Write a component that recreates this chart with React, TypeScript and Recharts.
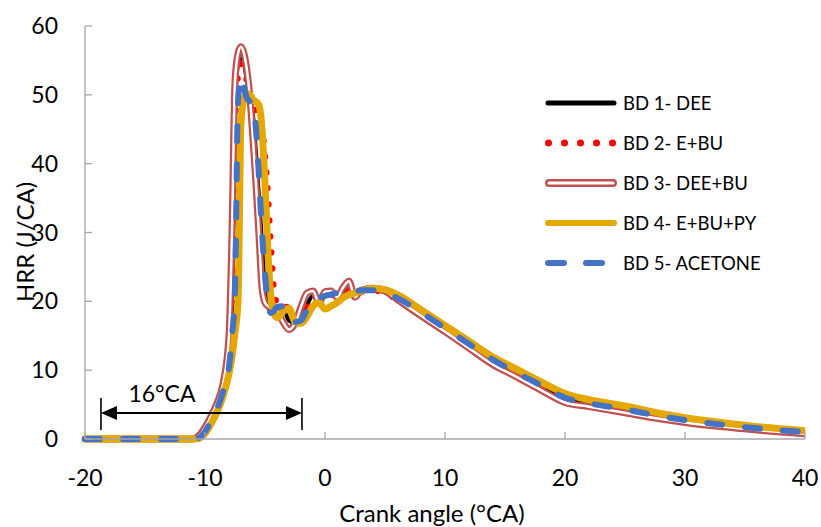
import { LineChart, Line, XAxis, YAxis, Legend, ReferenceLine } from "recharts";

// Heat release rate vs crank angle for five fuel blends.
const crankAngle = [
  -20, -11, -10.5, -10, -9.5, -9, -8.5, -8,
  -7.75, -7.5, -7.25, -7, -6.75, -6.5, -6.25, -6, -5.75, -5.5, -5.25, -5, -4.75, -4.5, -4.25, -4,
  -3.5, -3, -2.5, -2, -1.5, -1, -0.5, 0, 0.5, 1, 1.5, 2, 2.5, 3,
  4, 5, 6, 8, 10, 12, 14, 16, 18, 20, 22, 25, 28, 30, 33, 36, 40,
];

const bd1Dee = [
  0, 0, 0.3, 1.3, 2.8, 4.6, 7.2, 12,
  19, 47.8, 54.5, 55.8, 54.5, 52, 49.5, 47, 41.5, 35, 28.5, 22, 19.3, 18.4, 18.4, 18.5,
  18.8, 17.2, 16.8, 17.8, 19.5, 20.8, 20.0, 20.8, 21.3, 20.9, 21.3, 21.8, 21.0, 21.5,
  21.7, 21.3, 20.4, 18.3, 16.0, 13.7, 11.3, 9.5, 7.7, 5.9, 5.1, 4.2, 3.2, 2.65, 2.0, 1.5, 0.95,
];

const bd2EBu = [
  0, 0, 0.3, 1.3, 2.8, 4.6, 7.0, 11.5,
  18, 45, 53, 54.5, 53.5, 52, 50, 48.5, 47.5, 46.5, 45, 41, 35, 27.5, 21.5, 19.8,
  20.0, 18.5, 17.5, 18.0, 19.2, 20.5, 20.2, 20.7, 21.0, 20.8, 21.2, 21.5, 21.0, 21.4,
  21.6, 21.2, 20.3, 18.2, 15.9, 13.6, 11.2, 9.4, 7.6, 5.8, 5.0, 4.1, 3.1, 2.6, 1.95, 1.45, 0.9,
];

const bd3DeeBu = [
  0, 0, 0.5, 1.7, 3.3, 5.2, 8.0, 15,
  30, 52, 56, 57, 56, 53.5, 49.5, 43.5, 37, 29.5, 22, 19.8, 19.3, 19.0, 18.8, 18.6,
  17.0, 15.9, 16.8, 19.2, 21.2, 21.5, 19.8, 21.4, 21.5, 20.6, 22.0, 22.9, 20.6, 21.6,
  21.9, 21.5, 20.3, 17.9, 15.6, 13.2, 10.8, 9.0, 7.1, 5.3, 4.7, 3.8, 2.9, 2.4, 1.8, 1.3, 0.75,
];

const bd4EBuPy = [
  0, 0, 0.1, 0.8, 2.2, 3.9, 6.2, 9.5,
  12, 15.5, 20, 46, 49.5, 50.2, 50, 49.3, 49, 48.5, 45, 37, 27, 20.5, 18.3, 17.6,
  18.5, 19.0, 17.0, 16.8, 17.8, 19.3, 19.8, 18.9, 19.3, 19.8, 20.5, 21.0, 21.2, 21.5,
  21.9, 21.7, 21.0, 18.8, 16.5, 14.2, 11.9, 10.1, 8.3, 6.6, 5.7, 4.8, 3.7, 3.1, 2.4, 1.8, 1.2,
];

const bd5Acetone = [
  0, 0, 0.2, 1.1, 2.6, 4.4, 6.9, 10.5,
  15, 21.6, 49, 52.6, 51, 49.5, 49, 48.3, 45, 38, 30, 24, 19.5, 18.3, 18.6, 19.2,
  19.3, 17.5, 17.0, 17.2, 18.8, 20.2, 20.5, 20.8, 21.0, 21.2, 21.3, 21.3, 21.4, 21.6,
  21.6, 21.2, 20.5, 18.4, 16.1, 13.8, 11.5, 9.6, 7.8, 6.0, 5.2, 4.3, 3.3, 2.75, 2.1, 1.55, 1.0,
];

const xTicks = [-20, -10, 0, 10, 20, 30, 40];
const yTicks = [0, 10, 20, 30, 40, 50, 60];

// ignition delay span marked under the curves
const delayStart = -18.67;
const delayEnd = -1.92;
const delayLevel = 3.78;
const delayLabel = "16°CA";

const rows = crankAngle.map((x, i) => ({
  x,
  bd1: bd1Dee[i],
  bd2: bd2EBu[i],
  bd3: bd3DeeBu[i],
  bd4: bd4EBuPy[i],
  bd5: bd5Acetone[i],
}));

const FONT = "Lato, 'DejaVu Sans', sans-serif";
const AXIS_GREY = "#a6a6a6";
const RED = "#ff0000";
const BROWN = "#c0504d";
const GOLD = "#e5a800";
const BLUE = "#4472c4";

const legendItems = [
  { label: "BD 1- DEE", kind: "solid" },
  { label: "BD 2- E+BU", kind: "dots" },
  { label: "BD 3- DEE+BU", kind: "double" },
  { label: "BD 4- E+BU+PY", kind: "gold" },
  { label: "BD 5- ACETONE", kind: "dash" },
];

function Swatch({ kind }: { kind: string }) {
  const y = 6;
  let body;
  if (kind === "solid") {
    body = <line x1={3} y1={y} x2={69} y2={y} stroke="#000" strokeWidth={5} strokeLinecap="round" />;
  } else if (kind === "dots") {
    body = (
      <line x1={3.5} y1={y} x2={68} y2={y} stroke={RED} strokeWidth={7} strokeLinecap="round" strokeDasharray="0 16" />
    );
  } else if (kind === "double") {
    body = (
      <g>
        <line x1={4} y1={y} x2={68} y2={y} stroke={BROWN} strokeWidth={8} strokeLinecap="round" />
        <line x1={4} y1={y} x2={68} y2={y} stroke="#fff" strokeWidth={3} strokeLinecap="round" />
      </g>
    );
  } else if (kind === "gold") {
    body = <line x1={3} y1={y} x2={69} y2={y} stroke={GOLD} strokeWidth={6} strokeLinecap="round" />;
  } else {
    body = (
      <line x1={3} y1={y} x2={66} y2={y} stroke={BLUE} strokeWidth={6} strokeLinecap="round" strokeDasharray="16 22" />
    );
  }
  return (
    <svg width={72} height={12} style={{ display: "block" }}>
      {body}
    </svg>
  );
}

function LegendBox() {
  return (
    <div style={{ fontFamily: FONT, fontSize: 18.5, color: "#000" }}>
      {legendItems.map((it) => (
        <div key={it.label} style={{ height: 40, display: "flex", alignItems: "center" }}>
          <Swatch kind={it.kind} />
          <span style={{ marginLeft: 6, whiteSpace: "nowrap" }}>{it.label}</span>
        </div>
      ))}
    </div>
  );
}

function DelayArrow(props: any) {
  const { x1, y1, x2 } = props;
  const head = 16;
  const half = 7;
  return (
    <g>
      <line x1={x1 + head} y1={y1} x2={x2 - head} y2={y1} stroke="#000" strokeWidth={2.2} />
      <polygon points={`${x1},${y1} ${x1 + head},${y1 - half} ${x1 + head},${y1 + half}`} fill="#000" />
      <polygon points={`${x2},${y1} ${x2 - head},${y1 - half} ${x2 - head},${y1 + half}`} fill="#000" />
      <line x1={x1} y1={y1 - 15} x2={x1} y2={y1 + 17} stroke="#000" strokeWidth={1.6} />
      <line x1={x2} y1={y1 - 15} x2={x2} y2={y1 + 17} stroke="#000" strokeWidth={1.6} />
      <text x={x1 + 61} y={y1 - 11} textAnchor="middle" fontFamily={FONT} fontSize={23} fill="#000">
        {delayLabel}
      </text>
    </g>
  );
}

const tickStyle = { fill: "#000", fontSize: 23, fontFamily: FONT };

export default function App() {
  return (
    <div style={{ position: "absolute", left: 0, top: 0, background: "#fff" }}>
      <LineChart width={821} height={527} data={rows} margin={{ top: 26, right: 16, bottom: 0, left: 0 }}>
        <XAxis
          type="number"
          dataKey="x"
          domain={[-20, 40]}
          ticks={xTicks}
          height={88}
          tick={tickStyle}
          tickSize={-7}
          tickMargin={38}
          axisLine={{ stroke: AXIS_GREY, strokeWidth: 1.3 }}
          tickLine={{ stroke: AXIS_GREY, strokeWidth: 1.3 }}
          label={() => (
            <text x={432} y={522} textAnchor="middle" fontFamily={FONT} fontSize={24} fill="#000">
              Crank angle (°CA)
            </text>
          )}
        />
        <YAxis
          type="number"
          domain={[0, 60]}
          ticks={yTicks}
          width={85}
          tick={tickStyle}
          tickSize={-7}
          tickMargin={34}
          axisLine={{ stroke: AXIS_GREY, strokeWidth: 1.3 }}
          tickLine={{ stroke: AXIS_GREY, strokeWidth: 1.3 }}
          label={() => (
            <text
              transform="translate(34,242) rotate(-90)"
              textAnchor="middle"
              fontFamily={FONT}
              fontSize={24}
              fill="#000"
            >
              HRR (J/CA)
            </text>
          )}
        />
        <Legend
          layout="vertical"
          align="center"
          verticalAlign="middle"
          content={() => <LegendBox />}
          wrapperStyle={{ left: 545, top: 83, width: 260, height: 200 }}
        />
        <Line type="monotone" dataKey="bd1" stroke="#000" strokeWidth={4} dot={false} activeDot={false} isAnimationActive={false} />
        <Line
          type="monotone"
          dataKey="bd2"
          stroke={RED}
          strokeWidth={6.5}
          strokeDasharray="0 16"
          strokeLinecap="round"
          dot={false}
          activeDot={false}
          isAnimationActive={false}
        />
        <Line type="monotone" dataKey="bd3" stroke={BROWN} strokeWidth={7} dot={false} activeDot={false} isAnimationActive={false} />
        <Line type="monotone" dataKey="bd3" stroke="#fff" strokeWidth={2.5} dot={false} activeDot={false} isAnimationActive={false} />
        <Line type="monotone" dataKey="bd4" stroke={GOLD} strokeWidth={7} dot={false} activeDot={false} isAnimationActive={false} />
        <Line
          type="monotone"
          dataKey="bd5"
          stroke={BLUE}
          strokeWidth={6}
          strokeDasharray="15 23"
          strokeLinecap="round"
          dot={false}
          activeDot={false}
          isAnimationActive={false}
        />
        <ReferenceLine
          segment={[
            { x: delayStart, y: delayLevel },
            { x: delayEnd, y: delayLevel },
          ]}
          ifOverflow="visible"
          shape={DelayArrow}
        />
      </LineChart>
    </div>
  );
}
